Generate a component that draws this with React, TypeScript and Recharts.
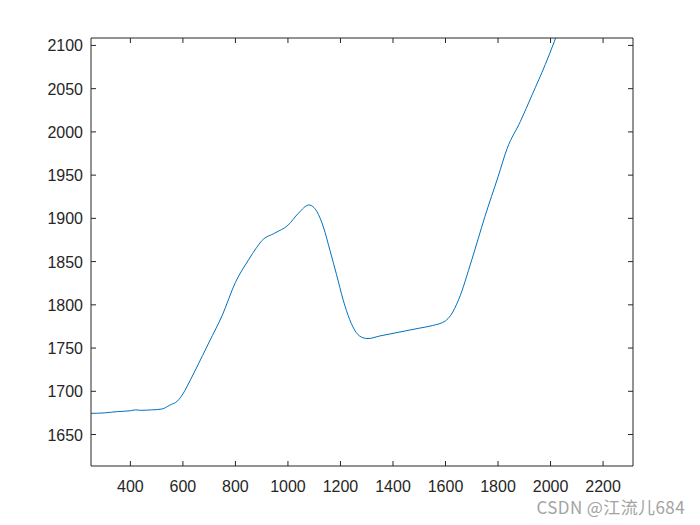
import { LineChart, Line, XAxis, YAxis } from "recharts";

const xs = [250, 300, 350, 400, 420, 440, 480, 520, 550, 580, 600, 630, 650, 700, 750, 800, 850, 880, 900, 950, 1000, 1040, 1080, 1110, 1135, 1160, 1185, 1210, 1235, 1260, 1285, 1305, 1350, 1400, 1450, 1500, 1550, 1600, 1620, 1650, 1700, 1750, 1800, 1835, 1885, 1930, 1980, 2015, 2050];
const ys = [1674.5, 1675, 1676.5, 1677.5, 1678.5, 1678, 1678.5, 1679.5, 1684, 1689, 1697, 1714, 1726, 1757, 1788, 1826, 1852, 1866, 1874, 1883, 1892, 1906, 1915.5, 1908, 1890, 1863, 1835, 1806, 1783, 1768, 1762, 1761, 1764, 1767, 1770, 1773, 1776, 1781.5, 1788, 1806, 1852, 1902, 1948, 1981, 2012, 2043, 2078, 2105, 2135];

const xTicks = [400, 600, 800, 1000, 1200, 1400, 1600, 1800, 2000, 2200];
const yTicks = [1650, 1700, 1750, 1800, 1850, 1900, 1950, 2000, 2050, 2100];

const data = xs.map((x, i) => ({ x, y: ys[i] }));

const AXIS = "#262626";
const FONT = "'Liberation Sans', Arial, sans-serif";
const TL = 5;

// MATLAB style: ticks point inward, labels only bottom/left
const BottomTick = (p: any) => (
  <g>
    <line x1={p.x} x2={p.x} y1={p.y} y2={p.y - TL} stroke={AXIS} />
    <text x={p.x} y={p.y + 26} textAnchor="middle" fontSize={16} fontFamily={FONT} fill={AXIS}>{p.payload.value}</text>
  </g>
);
const TopTick = (p: any) => <line x1={p.x} x2={p.x} y1={p.y} y2={p.y + TL} stroke={AXIS} />;
const LeftTick = (p: any) => (
  <g>
    <line x1={p.x} x2={p.x + TL} y1={p.y} y2={p.y} stroke={AXIS} />
    <text x={p.x - 8} y={p.y + 6} textAnchor="end" fontSize={16} fontFamily={FONT} fill={AXIS}>{p.payload.value}</text>
  </g>
);
const RightTick = (p: any) => <line x1={p.x} x2={p.x - TL} y1={p.y} y2={p.y} stroke={AXIS} />;

export default function App() {
  return (
    <div style={{ position: "absolute", left: 0, top: 0, width: 700, height: 525, background: "#fff" }}>
      <LineChart width={700} height={525} data={data} margin={{ top: 37, right: 66, bottom: 29, left: 0 }}>
        <XAxis dataKey="x" type="number" domain={[250, 2314]} ticks={xTicks} allowDataOverflow interval={0}
          height={30} tickSize={0} tickMargin={0} tickLine={false} stroke={AXIS} tick={BottomTick} />
        <XAxis xAxisId="top" orientation="top" dataKey="x" type="number" domain={[250, 2314]} ticks={xTicks} allowDataOverflow interval={0}
          height={1} tickSize={0} tickMargin={0} tickLine={false} stroke={AXIS} tick={TopTick} />
        <YAxis type="number" domain={[1613.6, 2108.6]} ticks={yTicks} allowDataOverflow interval={0}
          width={91} tickSize={0} tickMargin={0} tickLine={false} stroke={AXIS} tick={LeftTick} />
        <YAxis yAxisId="right" orientation="right" type="number" domain={[1613.6, 2108.6]} ticks={yTicks} allowDataOverflow interval={0}
          width={1} tickSize={0} tickMargin={0} tickLine={false} stroke={AXIS} tick={RightTick} />
        <Line dataKey="y" type="monotone" stroke="#0072BD" strokeWidth={1} dot={false} isAnimationActive={false} />
      </LineChart>
      <div style={{ position: "absolute", right: 15, top: 498, fontSize: 17, letterSpacing: 0.4, lineHeight: "17px", color: "#a3a3a3", fontFamily: "'Noto Sans CJK SC', 'Liberation Sans', sans-serif" }}>
        CSDN @江流儿684
      </div>
    </div>
  );
}
